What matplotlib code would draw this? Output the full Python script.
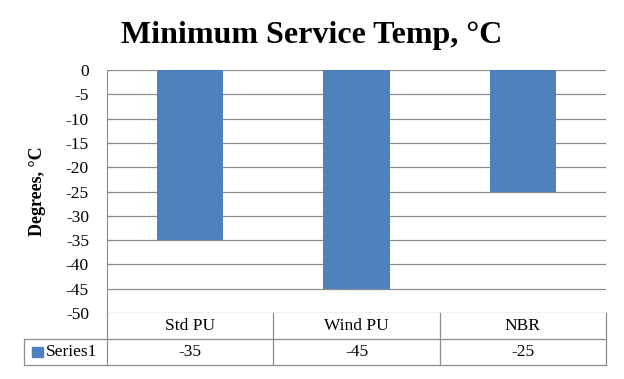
import matplotlib.pyplot as plt
from matplotlib.transforms import blended_transform_factory
from matplotlib.patches import Rectangle

categories = ["Std PU", "Wind PU", "NBR"]
values = [-35, -45, -25]
series_name = "Series1"
yticks = list(range(0, -55, -5))

bar_color = "#4F81BD"
line_color = "#8C8C8C"
plt.rcParams["font.family"] = ["Liberation Serif", "DejaVu Serif"]

fig = plt.figure(figsize=(6.24, 3.79), dpi=100)
ax = fig.add_axes([107 / 624, 1 - 313 / 379, 499 / 624, 243 / 379])

x = list(range(len(categories)))
ax.bar(x, values, width=0.4, color=bar_color, zorder=3)
ax.set_xlim(-0.5, len(categories) - 0.5)
ax.set_ylim(-50, 0)
ax.set_yticks(yticks)
ax.set_yticklabels([str(t) for t in yticks], fontsize=12.5)
ax.tick_params(axis="y", length=0, pad=13)
ax.set_xticks([])
ax.grid(axis="y", color=line_color, linewidth=0.9, zorder=0)
for s in ["top", "right", "bottom"]:
    ax.spines[s].set_visible(False)
ax.spines["left"].set_color(line_color)
ax.set_ylabel("Degrees, °C", fontsize=13, fontweight="bold", labelpad=14)

fig.suptitle("Minimum Service Temp, °C", fontsize=23, fontweight="bold", y=0.945)

# data table under the plot
tr = blended_transform_factory(ax.transData, ax.transAxes)
row_h = 26 / 243
n = len(categories)
left_cell = -1.0
kw = dict(transform=tr, color=line_color, linewidth=0.9, clip_on=False)
ax.plot([-0.5, -0.5], [0, -2 * row_h], **kw)
for b in range(1, n + 1):
    ax.plot([b - 0.5, b - 0.5], [0, -2 * row_h], **kw)
ax.plot([left_cell, n - 0.5], [-row_h, -row_h], **kw)
ax.plot([left_cell, n - 0.5], [-2 * row_h, -2 * row_h], **kw)
ax.plot([left_cell, left_cell], [-row_h, -2 * row_h], **kw)

for i, (c, v) in enumerate(zip(categories, values)):
    ax.text(i, -0.5 * row_h, c, transform=tr, ha="center", va="center", fontsize=12.5)
    ax.text(i, -1.5 * row_h, str(v), transform=tr, ha="center", va="center", fontsize=12.5)

ax.add_patch(Rectangle((left_cell + 0.05, -1.5 * row_h - 0.02), 0.065, 0.04,
                       transform=tr, color=bar_color, clip_on=False))
ax.text(left_cell + 0.13, -1.5 * row_h, series_name, transform=tr,
        ha="left", va="center", fontsize=12.5)

fig.savefig("out.png", dpi=100)
